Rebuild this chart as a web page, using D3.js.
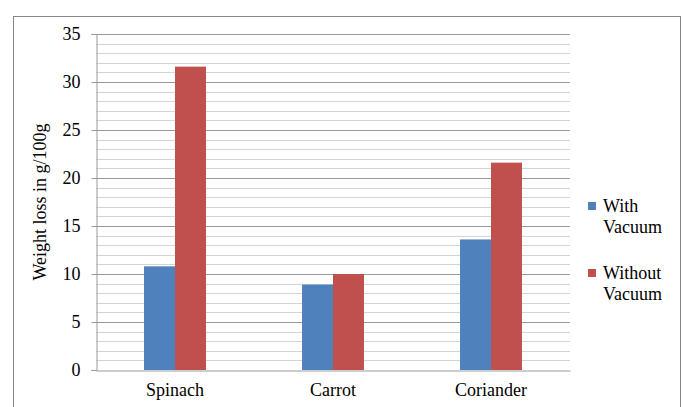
<!DOCTYPE html>
<html>
<head>
<meta charset="utf-8">
<script src="https://cdn.jsdelivr.net/npm/d3@7"></script>
<style>
  html, body { margin: 0; padding: 0; background: #fff; }
  svg { display: block; }
</style>
</head>
<body>
<svg id="chart" width="683" height="407"></svg>
<script>
// Weight loss of vegetables stored with and without vacuum
const categories = ["Spinach", "Carrot", "Coriander"];
const seriesNames = ["With Vacuum", "Without Vacuum"];
const withVacuum = [10.8, 8.9, 13.6];
const withoutVacuum = [31.6, 10.0, 21.6];
const yTicks = [0, 5, 10, 15, 20, 25, 30, 35];
const colors = ["#4f81bd", "#c0504d"];

const FONT = '"Liberation Serif"';
const FS = "18px";
const svg = d3.select("#chart");
const margin = { left: 96, right: 113, top: 34, bottom: 37 };
const W = 683, H = 407;

// outer chart frame
svg.append("rect")
  .attr("x", 13.5).attr("y", 16.5)
  .attr("width", 667).attr("height", 400)
  .attr("fill", "#fff").attr("stroke", "#868686").attr("stroke-width", 1);

const x = d3.scaleBand()
  .domain(categories)
  .range([margin.left, W - margin.right]);

const xInner = d3.scaleBand()
  .domain(seriesNames)
  .range([0, x.bandwidth()])
  .paddingInner(0)
  .paddingOuter(1.55);

const y = d3.scaleLinear()
  .domain([0, 35])
  .range([H - margin.bottom, margin.top]);

// minor gridlines every unit
const minor = d3.range(1, 36).filter(v => v % 5 !== 0);
svg.append("g").selectAll("line").data(minor).join("line")
  .attr("x1", margin.left).attr("x2", W - margin.right)
  .attr("y1", d => Math.round(y(d)) + 0.5).attr("y2", d => Math.round(y(d)) + 0.5)
  .attr("stroke", "#d4d4d4").attr("stroke-width", 1);

// major gridlines
svg.append("g").selectAll("line").data(yTicks.filter(v => v > 0)).join("line")
  .attr("x1", margin.left).attr("x2", W - margin.right)
  .attr("y1", d => Math.round(y(d)) + 0.5).attr("y2", d => Math.round(y(d)) + 0.5)
  .attr("stroke", "#9a9a9a").attr("stroke-width", 1);

// bars
const rows = categories.map((c, i) => ({ cat: c, vals: [withVacuum[i], withoutVacuum[i]] }));
const groups = svg.append("g").selectAll("g").data(rows).join("g")
  .attr("transform", d => `translate(${x(d.cat)},0)`);
groups.selectAll("rect")
  .data(d => d.vals.map((v, j) => ({ name: seriesNames[j], v, j })))
  .join("rect")
  .attr("x", d => xInner(d.name))
  .attr("width", xInner.bandwidth())
  .attr("y", d => y(d.v))
  .attr("height", d => y(0) - y(d.v))
  .attr("fill", d => colors[d.j]);

// y axis
const yAxis = svg.append("g")
  .attr("transform", `translate(${margin.left + 0.5},0)`)
  .call(d3.axisLeft(y).tickValues(yTicks).tickSize(5).tickPadding(11).tickFormat(d3.format("d")));
yAxis.select(".domain").attr("stroke", "#9a9a9a");
yAxis.selectAll(".tick line").attr("stroke", "#9a9a9a");
yAxis.selectAll("text").style("font-family", FONT).style("font-size", FS).attr("fill", "#000");

// x axis
const xAxis = svg.append("g")
  .attr("transform", `translate(0,${Math.round(y(0)) + 0.5})`)
  .call(d3.axisBottom(x).tickSize(0).tickPadding(13));
xAxis.select(".domain").attr("stroke", "#9a9a9a");
xAxis.selectAll("text").style("font-family", FONT).style("font-size", FS).attr("fill", "#000");

// y axis title
svg.append("text")
  .attr("transform", `translate(46,${(y(0) + y(35)) / 2}) rotate(-90)`)
  .attr("text-anchor", "middle")
  .style("font-family", FONT).style("font-size", FS)
  .text("Weight loss in g/100g");

// legend
const legendItems = [
  { lines: ["With", "Vacuum"], color: colors[0], y: 212 },
  { lines: ["Without", "Vacuum"], color: colors[1], y: 279 }
];
const lg = svg.append("g").selectAll("g").data(legendItems).join("g");
lg.append("rect")
  .attr("x", 588).attr("y", d => d.y - 10)
  .attr("width", 8).attr("height", 8)
  .attr("fill", d => d.color);
lg.append("text")
  .attr("x", 603).attr("y", d => d.y)
  .style("font-family", FONT).style("font-size", FS)
  .selectAll("tspan").data(d => d.lines).join("tspan")
  .attr("x", 603).attr("dy", (d, i) => i === 0 ? 0 : 20.5)
  .text(d => d);
</script>
</body>
</html>
